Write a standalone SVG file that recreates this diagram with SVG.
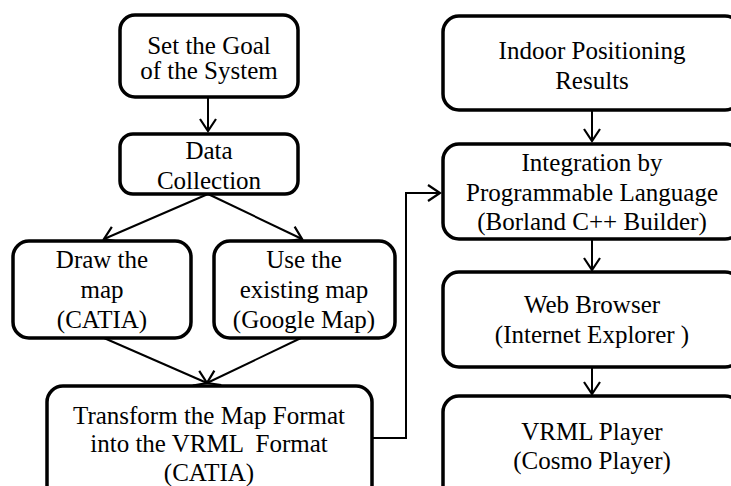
<svg xmlns="http://www.w3.org/2000/svg" width="731" height="486" viewBox="0 0 731 486">
<style>
.box{fill:#fff;stroke:#000;stroke-width:3.5}
.t{font-family:'Liberation Serif',Tinos,'DejaVu Serif',serif;font-size:25px;fill:#000;text-anchor:middle}
.c{fill:none;stroke:#000;stroke-width:2}
</style>
<defs>
<marker id="ah" markerUnits="userSpaceOnUse" markerWidth="30" markerHeight="30" refX="0" refY="0" viewBox="-15 -15 30 30" orient="auto" overflow="visible">
<path d="M-12,-8 L0,0 L-12,8" fill="none" stroke="#000" stroke-width="2.2"/>
</marker>
</defs>
<rect width="731" height="486" fill="#fff"/>
<g id="connectors">
<line class="c" x1="208" y1="97" x2="208" y2="131" marker-end="url(#ah)"/>
<line class="c" x1="208" y1="194" x2="104" y2="239" marker-end="url(#ah)"/>
<line class="c" x1="208" y1="194" x2="302" y2="239" marker-end="url(#ah)"/>
<line class="c" x1="104" y1="338" x2="207" y2="383" marker-end="url(#ah)"/>
<line class="c" x1="301" y1="338" x2="207" y2="383" marker-end="url(#ah)"/>
<polyline class="c" points="372,438 406,438 406,193 440,193" marker-end="url(#ah)"/>
<line class="c" x1="592" y1="110" x2="592" y2="141" marker-end="url(#ah)"/>
<line class="c" x1="592" y1="239" x2="592" y2="270" marker-end="url(#ah)"/>
<line class="c" x1="592" y1="367" x2="592" y2="394" marker-end="url(#ah)"/>
</g>
<g id="goal">
<rect class="box" x="120" y="15" width="178" height="82" rx="15"/>
<text class="t" x="209" y="54">Set the Goal</text>
<text class="t" x="209" y="79">of the System</text>
</g>
<g id="data">
<rect class="box" x="120" y="134" width="178" height="60" rx="13"/>
<text class="t" x="209" y="159">Data</text>
<text class="t" x="209" y="189">Collection</text>
</g>
<g id="draw">
<rect class="box" x="13" y="241" width="178" height="97" rx="16"/>
<text class="t" x="102" y="268">Draw the</text>
<text class="t" x="102" y="298">map</text>
<text class="t" x="102" y="328">(CATIA)</text>
</g>
<g id="use">
<rect class="box" x="214" y="241" width="181" height="97" rx="16"/>
<text class="t" x="304" y="268">Use the</text>
<text class="t" x="304" y="298">existing map</text>
<text class="t" x="304" y="328">(Google Map)</text>
</g>
<g id="transform">
<rect class="box" x="47" y="386" width="325" height="115" rx="16"/>
<text class="t" x="209" y="424">Transform the Map Format</text>
<text class="t" x="209" y="452" xml:space="preserve">into the VRML  Format</text>
<text class="t" x="209" y="481">(CATIA)</text>
</g>
<g id="indoor">
<rect class="box" x="443" y="16" width="298" height="94" rx="16"/>
<text class="t" x="592" y="59">Indoor Positioning</text>
<text class="t" x="592" y="89">Results</text>
</g>
<g id="integration">
<rect class="box" x="443" y="144" width="298" height="95" rx="16"/>
<text class="t" x="592" y="171">Integration by</text>
<text class="t" x="592" y="201">Programmable Language</text>
<text class="t" x="592" y="230">(Borland C++ Builder)</text>
</g>
<g id="browser">
<rect class="box" x="443" y="272" width="298" height="95" rx="16"/>
<text class="t" x="592" y="313">Web Browser</text>
<text class="t" x="592" y="343">(Internet Explorer )</text>
</g>
<g id="vrml">
<rect class="box" x="443" y="396" width="298" height="110" rx="16"/>
<text class="t" x="592" y="440">VRML Player</text>
<text class="t" x="592" y="469">(Cosmo Player)</text>
</g>
</svg>
